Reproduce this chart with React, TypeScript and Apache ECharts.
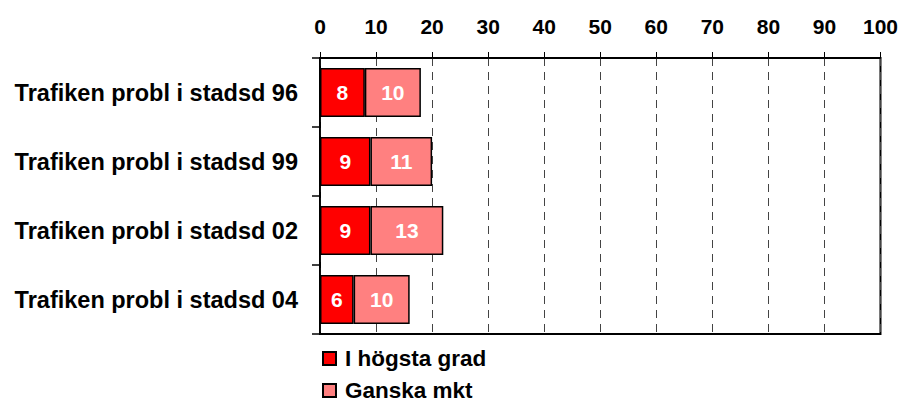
import React, { useEffect, useRef } from "react";
import * as echarts from "echarts";

const categories = [
  "Trafiken probl i stadsd 96",
  "Trafiken probl i stadsd 99",
  "Trafiken probl i stadsd 02",
  "Trafiken probl i stadsd 04",
];
const seriesNames = ["I högsta grad", "Ganska mkt"];
const highest = [8, 9, 9, 6];
const quite = [10, 11, 13, 10];
const colors = ["#FF0000", "#FF8080"];

export default function App() {
  const ref = useRef<HTMLDivElement>(null);
  useEffect(() => {
    if (!ref.current) return;
    const chart = echarts.init(ref.current, undefined, { renderer: "svg" });
    const font = "Arial, 'Liberation Sans', sans-serif";
    const mkSeries = (name: string, data: number[], color: string) => ({
      name,
      type: "bar",
      stack: "total",
      data,
      barWidth: "71%",
      itemStyle: { color, borderColor: "#000", borderWidth: 1.5 },
      label: {
        show: true,
        position: "inside",
        color: "#fff",
        fontWeight: "bold",
        fontSize: 21,
        fontFamily: font,
      },
    });
    const mkLegend = (name: string, top: number) => ({
      orient: "vertical",
      left: 317,
      top,
      padding: [0, 5, 0, 5],
      itemWidth: 13,
      itemHeight: 13,
      icon: "rect",
      data: [name],
      textStyle: {
        fontWeight: "bold",
        fontSize: 22.5,
        lineHeight: 22,
        color: "#000",
        fontFamily: font,
        padding: [0, 0, 0, 4],
      },
    });
    chart.setOption({
      animation: false,
      backgroundColor: "#fff",
      grid: {
        left: 320,
        right: 18,
        top: 58,
        bottom: 71,
        show: true,
        borderColor: "#000",
        borderWidth: 2,
        backgroundColor: "transparent",
      },
      legend: [mkLegend(seriesNames[0], 347), mkLegend(seriesNames[1], 379)],
      xAxis: {
        type: "value",
        position: "top",
        min: 0,
        max: 100,
        interval: 10,
        axisLine: { show: true, lineStyle: { color: "#000", width: 1.5 } },
        axisTick: { show: true, length: 6, lineStyle: { color: "#000" } },
        splitLine: { show: true, lineStyle: { color: "#444", type: [8, 6], width: 1 } },
        axisLabel: {
          color: "#000",
          fontWeight: "bold",
          fontSize: 21,
          fontFamily: font,
          margin: 21,
        },
      },
      yAxis: {
        type: "category",
        inverse: true,
        data: categories,
        axisLine: { show: true, lineStyle: { color: "#000", width: 1.5 } },
        axisTick: { show: true, length: 8, lineStyle: { color: "#000", width: 1.5 } },
        axisLabel: {
          color: "#000",
          fontWeight: "bold",
          fontSize: 23.5,
          fontFamily: font,
          margin: 22,
        },
      },
      series: [
        mkSeries(seriesNames[0], highest, colors[0]),
        mkSeries(seriesNames[1], quite, colors[1]),
      ],
    });
    return () => chart.dispose();
  }, []);
  return (
    <div
      ref={ref}
      style={{ position: "fixed", left: 0, top: 0, width: 901, height: 405 }}
    />
  );
}
